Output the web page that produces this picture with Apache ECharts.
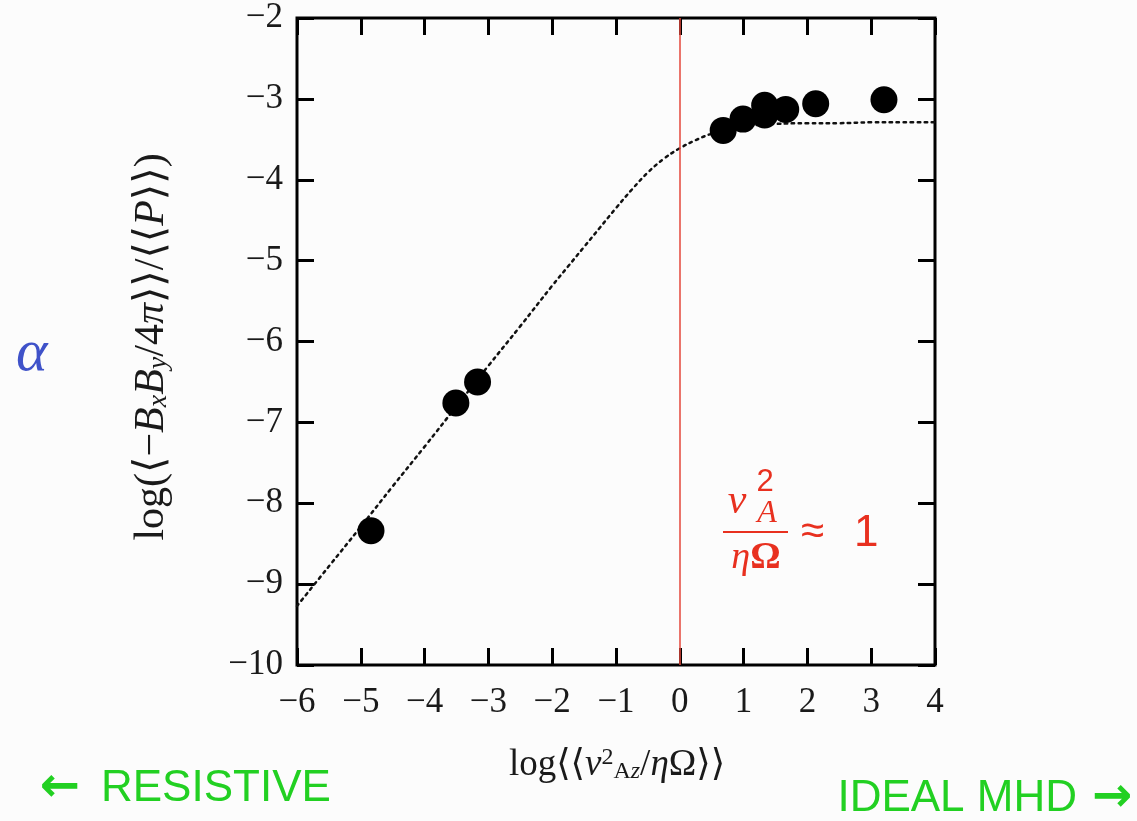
<!DOCTYPE html>
<html>
<head>
<meta charset="utf-8">
<script src="https://cdn.jsdelivr.net/npm/echarts@6/dist/echarts.min.js"></script>
<style>
html,body{margin:0;padding:0;background:#fcfcfc;}
#chart{width:1137px;height:821px;}
</style>
</head>
<body>
<div id="chart"></div>
<script>
// Measured data points (log v_Az^2/etaOmega, log alpha)
var pointX = [-4.84, -3.51, -3.17, 0.68, 0.99, 1.33, 1.33, 1.66, 2.13, 3.20];
var pointY = [-8.34, -6.76, -6.50, -3.39, -3.25, -3.08, -3.20, -3.13, -3.06, -3.01];

// Dotted fit curve
var curveX = [-6, -5.5, -5, -4.5, -4, -3.5, -3, -2.5, -2, -1.75, -1.5, -1.25, -1, -0.75, -0.5, -0.25, 0, 0.25, 0.5, 0.75, 1, 1.25, 1.5, 2, 2.5, 3, 3.5, 4];
var curveY = [-9.27, -8.78, -8.29, -7.79, -7.30, -6.80, -6.30, -5.81, -5.31, -5.07, -4.83, -4.59, -4.35, -4.12, -3.91, -3.74, -3.61, -3.51, -3.43, -3.38, -3.35, -3.32, -3.31, -3.30, -3.30, -3.29, -3.29, -3.29];

// Axis settings
var xMin = -6, xMax = 4, xStep = 1;
var yMin = -10, yMax = -2, yStep = 1;
var boundaryX = 0;

var serif = '"Liberation Serif", "DejaVu Serif", serif';
var sans = '"Liberation Sans", Arial, sans-serif';

function minusFmt(v){ return String(v).replace('-', '\u2212'); }

var tickStyle = {show:true, inside:true, length:17, lineStyle:{color:'#000', width:3}};
var noLine = {show:false, onZero:false};

var chart = echarts.init(document.getElementById('chart'), null, {renderer:'canvas'});

var ink = '#1a1a1a';
var red = '#e8301f';
var green = '#22d022';

var option = {
  backgroundColor:'#fcfcfc',
  animation:false,
  grid:{left:297, right:202, top:18, bottom:156, show:true, borderColor:'#000', borderWidth:3, backgroundColor:'transparent', containLabel:false},
  xAxis:[
    {type:'value', min:xMin, max:xMax, interval:xStep, position:'bottom',
     axisLine:noLine, axisTick:tickStyle, splitLine:{show:false},
     axisLabel:{margin:20, fontSize:35, fontFamily:serif, color:ink, formatter:minusFmt}},
    {type:'value', min:xMin, max:xMax, interval:xStep, position:'top',
     axisLine:noLine, axisTick:tickStyle, splitLine:{show:false}, axisLabel:{show:false}}
  ],
  yAxis:[
    {type:'value', min:yMin, max:yMax, interval:yStep, position:'left',
     axisLine:noLine, axisTick:tickStyle, splitLine:{show:false},
     axisLabel:{margin:14, fontSize:35, fontFamily:serif, color:ink, formatter:minusFmt}},
    {type:'value', min:yMin, max:yMax, interval:yStep, position:'right',
     axisLine:noLine, axisTick:tickStyle, splitLine:{show:false}, axisLabel:{show:false}}
  ],
  series:[
    {type:'line', xAxisIndex:0, yAxisIndex:0, smooth:0.4, symbol:'none', z:2,
     data: curveX.map(function(x,i){return [x, curveY[i]];}),
     lineStyle:{color:'#111', width:2.5, type:[2.5,4.5], cap:'round'},
     markLine:{silent:true, symbol:'none', label:{show:false},
       lineStyle:{color:'#e5473b', width:1.5, type:'solid', opacity:1},
       data:[{xAxis:boundaryX}]}},
    {type:'scatter', xAxisIndex:0, yAxisIndex:0, symbol:'circle', symbolSize:27, z:5,
     itemStyle:{color:'#000', opacity:1},
     data: pointX.map(function(x,i){return [x, pointY[i]];})}
  ],
  graphic:[
    {type:'text', x:152, y:347, rotation:Math.PI/2, z:10,
     style:{text:'log(⟨−{i|B}{s|x}{i|B}{s|y}/4{i|π}⟩⟩/⟨⟨{i|P}⟩⟩)', font:'42px '+serif, fill:ink,
       align:'center', verticalAlign:'middle',
       rich:{i:{fontStyle:'italic', fontSize:42, fontFamily:serif, fill:ink},
             s:{fontStyle:'italic', fontSize:28, fontFamily:serif, fill:ink, verticalAlign:'bottom', padding:[14,0,0,0]}}}},
    {type:'text', x:617, y:765, z:10,
     style:{text:'log⟨⟨{i|v}{sup|2}{sub|A}{subi|z}/{i|η}Ω⟩⟩', font:'37px '+serif, fill:ink,
       align:'center', verticalAlign:'middle',
       rich:{i:{fontStyle:'italic', fontSize:37, fontFamily:serif, fill:ink},
             sup:{fontSize:24, fontFamily:serif, fill:ink, verticalAlign:'top', padding:[0,0,12,0]},
             sub:{fontSize:24, fontFamily:serif, fill:ink, verticalAlign:'bottom', padding:[14,0,0,0]},
             subi:{fontSize:24, fontStyle:'italic', fontFamily:serif, fill:ink, verticalAlign:'bottom', padding:[14,0,0,0]}}}},
    {type:'text', x:16, y:354, z:10,
     style:{text:'α', font:'italic 60px '+serif, fill:'#3f52c9', align:'left', verticalAlign:'middle'}},
    // red annotation v_A^2 / (eta Omega) ≈ 1
    {type:'text', x:737, y:502, z:10, style:{text:'v', font:'italic 42px '+serif, fill:red, align:'center', verticalAlign:'middle'}},
    {type:'text', x:765, y:482, z:10, style:{text:'2', font:'31px '+sans, fill:red, align:'center', verticalAlign:'middle'}},
    {type:'text', x:767, y:514, z:10, style:{text:'A', font:'italic 32px '+serif, fill:red, align:'center', verticalAlign:'middle'}},
    {type:'line', z:10, shape:{x1:723, y1:532, x2:788, y2:532}, style:{stroke:red, lineWidth:2}},
    {type:'text', x:756, y:558, z:10, style:{text:'{i|η}Ω', font:'bold 38px '+serif, fill:red, align:'center', verticalAlign:'middle',
       rich:{i:{fontStyle:'italic', fontWeight:'normal', fontSize:38, fontFamily:serif, fill:red}}}},
    {type:'text', x:801, y:532, z:10, style:{text:'≈', font:'42px '+sans, fill:red, align:'left', verticalAlign:'middle'}},
    {type:'text', x:854, y:534, z:10, style:{text:'1', font:'44px '+sans, fill:red, align:'left', verticalAlign:'middle'}},
    // green regime labels
    {type:'text', x:40, y:789, z:10, style:{text:'←', font:'bold 48px "DejaVu Sans", sans-serif', fill:green, align:'left', verticalAlign:'middle'}},
    {type:'text', x:101, y:789, z:10, style:{text:'RESISTIVE', font:'44px '+sans, fill:green, align:'left', verticalAlign:'middle'}},
    {type:'text', x:1077, y:799, z:10, style:{text:'IDEAL MHD', font:'44px '+sans, fill:green, align:'right', verticalAlign:'middle'}},
    {type:'text', x:1092, y:799, z:10, style:{text:'→', font:'bold 48px "DejaVu Sans", sans-serif', fill:green, align:'left', verticalAlign:'middle'}}
  ]
};
chart.setOption(option);
</script>
</body>
</html>
